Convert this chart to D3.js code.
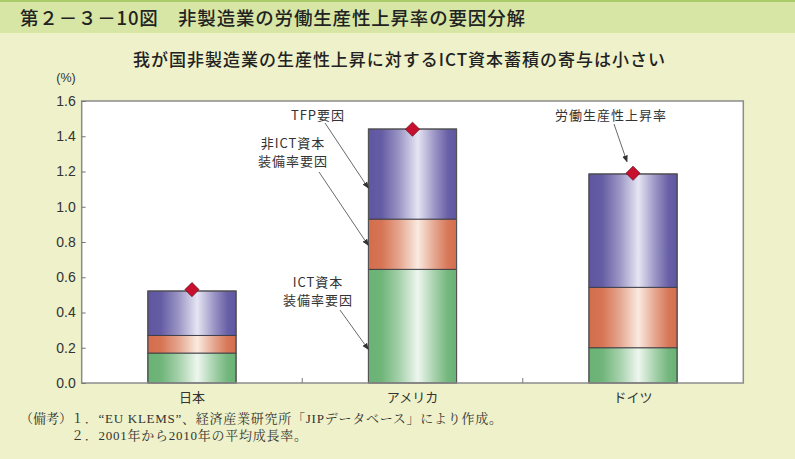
<!DOCTYPE html>
<html><head><meta charset="utf-8">
<script src="https://cdn.jsdelivr.net/npm/d3@7"></script>
<style>
html,body{margin:0;padding:0;background:#EEF1C9;}
svg{display:block;}
</style></head>
<body>
<svg id="c" width="795" height="459"></svg>
<script>
const categories = ["日本", "アメリカ", "ドイツ"];
const seriesNames = ["ICT資本装備率要因", "非ICT資本装備率要因", "TFP要因"];
const ictValues = [0.17, 0.645, 0.20];
const nonIctValues = [0.10, 0.285, 0.343];
const tfpValues = [0.252, 0.511, 0.643];
const laborProductivity = [0.53, 1.44, 1.19];
const yTicks = [0.0, 0.2, 0.4, 0.6, 0.8, 1.0, 1.2, 1.4, 1.6];

const svg = d3.select("#c");
const W = 795, H = 459;
const plot = {l: 81.7, r: 743.3, t: 101, b: 383};
const JP = "'Noto Sans CJK JP', sans-serif";
const SANS = "'Liberation Sans', Arial, 'Noto Sans CJK JP', sans-serif";
const SERIF = "'Liberation Serif', 'Noto Serif CJK JP', 'Noto Sans CJK JP', serif";

// background
svg.append("rect").attr("width", W).attr("height", H).attr("fill", "#EEF1C9");
svg.append("rect").attr("width", W).attr("height", 33).attr("fill", "#D7E6A5");
svg.append("rect").attr("width", W).attr("height", 2).attr("fill", "#A9CB6A");

svg.append("text").attr("x", 20).attr("y", 25)
  .attr("font-family", JP).attr("font-size", 18.5).attr("font-weight", 500).attr("fill", "#222")
  .attr("textLength", 505).attr("lengthAdjust", "spacing")
  .text("第２－３－10図　非製造業の労働生産性上昇率の要因分解");

svg.append("text").attr("x", 133).attr("y", 66)
  .attr("font-family", JP).attr("font-size", 17).attr("font-weight", 500).attr("fill", "#222")
  .attr("textLength", 532).attr("lengthAdjust", "spacing")
  .text("我が国非製造業の生産性上昇に対するICT資本蓄積の寄与は小さい");

// scales
const x = d3.scaleBand().domain(categories).range([plot.l, plot.r]).padding(0);
const barW = x.bandwidth() * 0.4;
const y = d3.scaleLinear().domain([0, 1.6]).range([plot.b, plot.t]);

// plot background
svg.append("rect").attr("x", plot.l).attr("y", plot.t)
  .attr("width", plot.r - plot.l).attr("height", plot.b - plot.t).attr("fill", "#fff");

// gradients
const defs = svg.append("defs");
const grads = [
  {id: "gGreen", dark: "#69B274", light: "#EEF6EE"},
  {id: "gOrange", dark: "#D46E4D", light: "#FAEADF"},
  {id: "gPurple", dark: "#5E56A0", light: "#E6E5F3"}
];
grads.forEach(g => {
  const lg = defs.append("linearGradient").attr("id", g.id).attr("x1", 0).attr("x2", 1).attr("y1", 0).attr("y2", 0);
  const mix = d3.interpolateRgb(g.dark, g.light);
  [[0, 0], [0.15, 0.05], [0.35, 0.45], [0.56, 1], [0.75, 0.45], [0.9, 0.08], [1, 0]].forEach(([o, t]) => {
    lg.append("stop").attr("offset", o).attr("stop-color", mix(t));
  });
});
const marker = defs.append("marker").attr("id", "arr").attr("viewBox", "0 0 10 10")
  .attr("refX", 9).attr("refY", 5).attr("markerWidth", 7).attr("markerHeight", 7)
  .attr("markerUnits", "userSpaceOnUse").attr("orient", "auto");
marker.append("path").attr("d", "M0,1 L10,5 L0,9 Z").attr("fill", "#333");

// stacked data
const rows = categories.map((c, i) => ({cat: c, ict: ictValues[i], non: nonIctValues[i], tfp: tfpValues[i]}));
const stack = d3.stack().keys(["ict", "non", "tfp"])(rows);
const fills = ["url(#gGreen)", "url(#gOrange)", "url(#gPurple)"];

const bars = svg.append("g");
stack.forEach((layer, li) => {
  bars.selectAll(null).data(layer).join("rect")
    .attr("x", d => x(d.data.cat) + (x.bandwidth() - barW) / 2)
    .attr("width", barW)
    .attr("y", d => y(d[1]))
    .attr("height", d => y(d[0]) - y(d[1]))
    .attr("fill", fills[li])
    .attr("stroke", "#3a3a44").attr("stroke-width", 0.9);
});
// grey bar sides
bars.selectAll(null).data(rows).join("rect")
  .attr("x", d => x(d.cat) + (x.bandwidth() - barW) / 2)
  .attr("width", barW)
  .attr("y", d => y(d.ict + d.non + d.tfp))
  .attr("height", d => y(0) - y(d.ict + d.non + d.tfp))
  .attr("fill", "none").attr("stroke", "#555").attr("stroke-width", 1);

// plot border
svg.append("rect").attr("x", plot.l).attr("y", plot.t)
  .attr("width", plot.r - plot.l).attr("height", plot.b - plot.t)
  .attr("fill", "none").attr("stroke", "#8c8c8c").attr("stroke-width", 1.5);

// y axis
const yAxis = d3.axisLeft(y).tickValues(yTicks).tickFormat(d3.format(".1f")).tickSize(-4).tickPadding(8);
const ga = svg.append("g").attr("transform", `translate(${plot.l},0)`).call(yAxis);
ga.select(".domain").remove();
ga.selectAll("line").attr("stroke", "#777");
ga.selectAll("text").attr("font-family", SANS).attr("font-size", 14).attr("fill", "#333").attr("dx", "2");
svg.append("text").attr("x", 66).attr("y", 82).attr("text-anchor", "middle")
  .attr("font-family", SANS).attr("font-size", 12.5).attr("fill", "#333").text("(%)");

// x axis
const xAxis = d3.axisBottom(x).tickSize(0).tickPadding(10);
const gx = svg.append("g").attr("transform", `translate(0,${plot.b})`).call(xAxis);
gx.select(".domain").remove();
gx.selectAll("text").attr("font-family", JP).attr("font-size", 13).attr("fill", "#333");
svg.selectAll(null).data(categories.slice(1)).join("line")
  .attr("x1", d => x(d)).attr("x2", d => x(d))
  .attr("y1", plot.b).attr("y2", plot.b - 5).attr("stroke", "#777");

// diamonds (rotated squares)
svg.selectAll(null).data(laborProductivity).join("path")
  .attr("d", d3.symbol(d3.symbolSquare, 100))
  .attr("transform", (d, i) => `translate(${x(categories[i]) + x.bandwidth() / 2},${y(d)}) rotate(45)`)
  .attr("fill", "#C8102E").attr("stroke", "#5a1020").attr("stroke-width", 0.7);

// annotations
const usLeft = x("アメリカ") + (x.bandwidth() - barW) / 2;
const deCenter = x("ドイツ") + x.bandwidth() / 2;
const ann = [
  {lines: ["TFP要因"], tx: 318, ty: 120, from: [325, 123], to: [usLeft, y(1.105)]},
  {lines: ["非ICT資本", "装備率要因"], tx: 293, ty: 148, from: [319, 172], to: [usLeft, y(0.78)]},
  {lines: ["ICT資本", "装備率要因"], tx: 318, ty: 287, from: [340, 310], to: [usLeft, y(0.19)]},
  {lines: ["労働生産性上昇率"], tx: 611, ty: 120, from: [614, 124], to: [deCenter - 6, y(1.255)]}
];
ann.forEach(a => {
  const t = svg.append("text").attr("x", a.tx).attr("y", a.ty).attr("text-anchor", "middle")
    .attr("font-family", JP).attr("font-size", 13).attr("letter-spacing", 1).attr("fill", "#333");
  a.lines.forEach((l, i) => t.append("tspan").attr("x", a.tx).attr("dy", i === 0 ? 0 : 18).text(l));
  svg.append("line").attr("x1", a.from[0]).attr("y1", a.from[1]).attr("x2", a.to[0]).attr("y2", a.to[1])
    .attr("stroke", "#444").attr("stroke-width", 0.8).attr("marker-end", "url(#arr)");
});

// footnotes
const fn = svg.append("g").attr("font-family", SERIF).attr("font-size", 13).attr("fill", "#333");
fn.append("text").attr("x", 20).attr("y", 423).text("（備考）");
fn.append("text").attr("x", 71).attr("y", 423).attr("textLength", 431).attr("lengthAdjust", "spacing")
  .text("１．“EU KLEMS”、経済産業研究所「JIPデータベース」により作成。");
fn.append("text").attr("x", 71).attr("y", 440).attr("textLength", 236).attr("lengthAdjust", "spacing")
  .text("２．2001年から2010年の平均成長率。");
</script>
</body></html>
